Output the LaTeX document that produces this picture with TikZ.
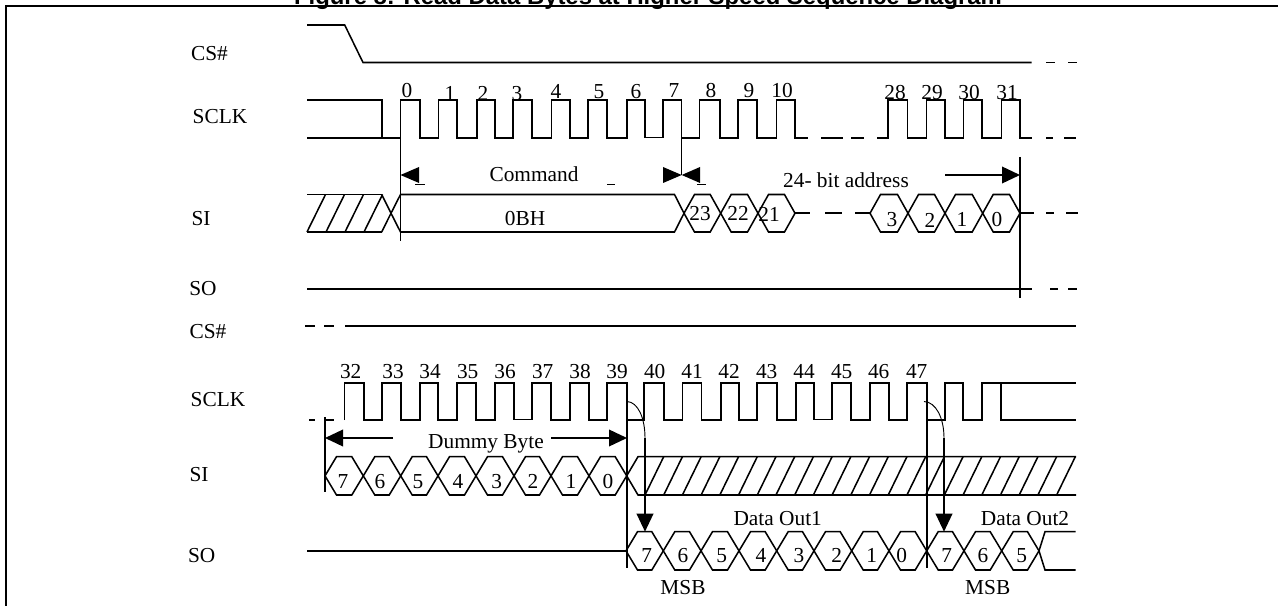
\documentclass[tikz,border=0pt]{standalone}
\usepackage{fontspec}
\setmainfont{Liberation Serif}
\newfontfamily\titlefont{Liberation Sans}
\usetikzlibrary{arrows.meta}
\tikzset{
  wave/.style={line width=1.15pt,line join=miter,black},
  thinwave/.style={line width=0.7pt,black},
  txt/.style={anchor=base,inner sep=0pt,outer sep=0pt,font=\fontsize{16pt}{17pt}\selectfont,text=black},
  bigtip/.style={-{Triangle[length=13.5pt,width=12.5pt]}},
}
\newcommand{\hexcell}[5]{\draw[wave] (#1,{(#3+#4)/2})--(#1+#5,#3)--(#2-#5,#3)--(#2,{(#3+#4)/2})--(#2-#5,#4)--(#1+#5,#4)--cycle;}
\newcommand{\lab}[4]{\node[txt] (#1) at (#2,#3) {#4};}
\begin{document}
\begin{tikzpicture}[x=0.75pt,y=-0.75pt]
\useasboundingbox (0,0) rectangle (1278,606);
\clip (0,0) rectangle (1278,606);
% title and frame
\node[anchor=base,inner sep=0pt,font=\titlefont\bfseries\fontsize{17.9pt}{19pt}\selectfont] (title) at (648,5) {Figure 8: Read Data Bytes at Higher Speed Sequence Diagram};
\draw[line width=1.3pt] (6.3,606)--(6.3,6.3)--(1278,6.3);
% left labels
\lab{csa}{209.5}{61}{CS\#}
\lab{scka}{220}{124}{SCLK}
\lab{sia}{201}{225}{SI}
\lab{soa}{203}{295}{SO}
\lab{csb}{208}{338.7}{CS\#}
\lab{sckb}{218}{406}{SCLK}
\lab{sib}{199}{481}{SI}
\lab{sob}{201.7}{562.7}{SO}
% CS# top
\draw[wave] (307,25)--(344.7,25)--(363,62.5)--(1031.7,62.5);
\draw[wave] (1046,62.5)--(1055,62.5) (1068,62.5)--(1077,62.5);
% SCLK top
\draw[wave] (307,100)--(382,100)--(382,138);
\draw[wave] (307,138)--(400.5,138)
  --(400.5,100)--(420,100)--(420,138)--(438.5,138)--(438.5,100)--(457,100)--(457,138)
  --(477,138)--(477,100)--(495,100)--(495,138)--(513,138)--(513,100)--(532,100)--(532,138)
  --(551.5,138)--(551.5,100)--(570,100)--(570,138)--(588,138)--(588,100)--(607,100)--(607,138)
  --(627,138)--(627,100)--(645,100)--(645,137.5)--(663,137.5)--(663,100)--(681.7,100)--(681.7,138)
  --(699.3,138)--(699.3,100)--(720,100)--(720,138)--(738,138)--(738,100)--(757,100)--(757,138)
  --(776.7,138)--(776.7,100)--(795,100)--(795,138)--(807.7,138);
\draw[wave] (821,138)--(843,138) (851,138)--(864,138);
\draw[wave] (877,138)--(888,138)--(888,100)--(907.7,100)--(907.7,138)
  --(926.7,138)--(926.7,100)--(945,100)--(945,138)--(963.3,138)--(963.3,100)--(982,100)--(982,138)
  --(1001.7,138)--(1001.7,100)--(1020,100)--(1020,138)--(1031.7,138);
\draw[wave] (1046,138)--(1053,138) (1064,138)--(1076,138);
% clock numbers top
\lab{n0}{407}{98}{0}\lab{n1}{450}{101}{1}\lab{n2}{483}{101}{2}\lab{n3}{517}{101}{3}
\lab{n4}{556}{99}{4}\lab{n5}{599}{99}{5}\lab{n6}{636}{99}{6}\lab{n7}{674}{98}{7}
\lab{n8}{711}{98}{8}\lab{n9}{749}{98}{9}\lab{n10}{782}{98}{10}
\lab{n28}{895}{99.3}{28}\lab{n29}{932}{99.3}{29}\lab{n30}{969}{99.3}{30}\lab{n31}{1007}{99.3}{31}
% command markers
\draw[wave] (400.5,138)--(400.5,241);
\draw[wave] (681.7,138)--(681.7,175);
\fill (400.5,175)--(419,167)--(419,183)--cycle;
\fill (681.7,175)--(663,167)--(663,183)--cycle;
\fill (681.7,175)--(700,167)--(700,183)--cycle;
\draw[thinwave] (415,184)--(425,184) (607,184)--(615,184) (697,184)--(706,184);
\lab{cmd}{534}{181}{Command}
\lab{addr}{846}{188}{24- bit address}
\draw[wave,bigtip] (945,175)--(1020,175);
\draw[wave] (1020,157)--(1020,298);
% SI top
\draw[wave] (307,194.5)--(381.7,194.5) (307,232)--(381.7,232);
\foreach \a in {307,326,345,364}{\draw[wave] (\a,232)--(\a+18.5,194.5);}
\draw[wave] (381.7,194.5)--(391,213.2)--(381.7,232);
\hexcell{391}{684}{194.5}{232}{9.5}
\foreach \a/\b in {684/720.7,720.7/758,758/795,870/908,908/945,945/982.7,982.7/1020}{\hexcell{\a}{\b}{194.5}{232}{10.5}}
\draw[wave] (795,213)--(810,213) (825,213)--(842,213) (855,213)--(870,213) (1020,213)--(1034,213) (1046,213)--(1054,213) (1066,213)--(1078,213);
\lab{obh}{525}{225}{0BH}
\lab{a23}{700}{220}{23}\lab{a22}{738}{220}{22}\lab{a21}{769}{222}{21}
\lab{a3}{892}{227}{3}\lab{a2}{930}{228}{2}\lab{a1}{962}{226}{1}\lab{a0}{997}{226}{0}
% SO top
\draw[wave] (307,289)--(1032,289);
\draw[wave] (1050,289)--(1058,289) (1068,289)--(1077,289);
% CS# bottom
\draw[wave] (305,326)--(315,326) (324,326)--(334,326) (345,326)--(1075.7,326);
% SCLK bottom
\draw[wave] (309,420)--(315,420) (324,420)--(334,420);
\draw[wave] (344.3,420)--(344.3,383)--(364,383)--(364,420)
  --(382,420)--(382,383)--(401,383)--(401,420)--(420,420)--(420,383)--(438,383)--(438,420)
  --(457,420)--(457,383)--(476,383)--(476,420)--(495,420)--(495,383)--(514,383)--(514,419.5)
  --(532,419.5)--(532,383)--(551,383)--(551,420)--(570,420)--(570,383)--(589,383)--(589,420)
  --(607,420)--(607,383)--(627,383)--(627,420)--(644,420)--(644,383)--(664,383)--(664,420)
  --(682.7,420)--(682.7,383)--(701.7,383)--(701.7,420)--(721,420)--(721,383)--(739,383)--(739,420)
  --(757,420)--(757,383)--(777,383)--(777,420)--(796,420)--(796,383)--(814,383)--(814,419.5)
  --(832,419.5)--(832,383)--(851,383)--(851,420)--(870,420)--(870,383)--(889,383)--(889,420)
  --(907,420)--(907,383)--(927,383)--(927,420)--(945,420)--(945,383)--(963,383)--(963,420)
  --(982,420)--(982,383)--(1001,383)--(1001,420)--(1076,420);
\draw[wave] (982,383)--(1076,383);
\foreach \t/\x in {32/350.7,33/393,34/430,35/467.7,36/505,37/542.7,38/580,39/617,40/654.7,41/692,42/729,43/766.7,44/804,45/841.7,46/878.7,47/916.7}{
  \node[txt] (c\t) at (\x,378) {\t};}
% dummy byte
\draw[wave] (325,417)--(325,491.7);
\draw[wave] (627,383)--(627,568);
\draw[wave] (927,383)--(927,568);
\draw[wave,bigtip] (393,438)--(325,438);
\draw[wave,bigtip] (551,438)--(627,438);
\lab{dummy}{486}{448}{Dummy Byte}
% SI bottom
\foreach \a/\b in {325/363.3,363.3/400.7,400.7/438,438/476,476/514,514/551,551/589,589/626.7}{\hexcell{\a}{\b}{456.7}{495}{11.5}}
\draw[wave] (1076,456.7)--(638,456.7)--(626.7,475.85)--(638,495)--(1076,495);
\foreach \k in {0,...,22}{\draw[wave] ({645+18.71*\k},495)--({663.7+18.71*\k},456.7);}
\foreach \t/\x in {7/343,6/380,5/418,4/458,3/496.7,2/533,1/571,0/608}{
  \node[txt] (b\t) at (\x,488) {\t};}
% SO bottom
\draw[wave] (307,551)--(626,551);
\foreach \a/\b in {626/663.3,663.3/701,701/739,739/776.7,776.7/814,814/851.7,851.7/889,889/926.7,926.7/964,964/1001.7,1001.7/1039}{\hexcell{\a}{\b}{531.7}{570}{11.5}}
\draw[wave] (1075.5,531.7)--(1045,531.7)--(1039,550.85)--(1045,570)--(1075.5,570);
\node[txt] (d7a) at (646.7,562) {7};\node[txt] (d6a) at (683,562) {6};
\node[txt] (d5a) at (721.7,562) {5};\node[txt] (d4a) at (761,562) {4};
\node[txt] (d3a) at (799,562) {3};\node[txt] (d2a) at (836.7,562) {2};
\node[txt] (d1a) at (871.7,562) {1};\node[txt] (d0a) at (901.7,562) {0};
\node[txt] (d7b) at (946.7,562) {7};\node[txt] (d6b) at (983,562) {6};
\node[txt] (d5b) at (1021.7,562) {5};
\lab{outa}{777.7}{525}{Data Out1}
\lab{outb}{1025}{525}{Data Out2}
\lab{msba}{683}{594}{MSB}
\lab{msbb}{987.7}{594}{MSB}
% data out arrows
\draw[thinwave] (627,401.5) .. controls (638,402) and (645,418) .. (645,438);
\draw[wave,bigtip] (645,438)--(645,531.7);
\draw[thinwave] (924,401.5) .. controls (936,402) and (944,418) .. (944,438);
\draw[wave,bigtip] (944,438)--(944,531.7);
\end{tikzpicture}
\end{document}
